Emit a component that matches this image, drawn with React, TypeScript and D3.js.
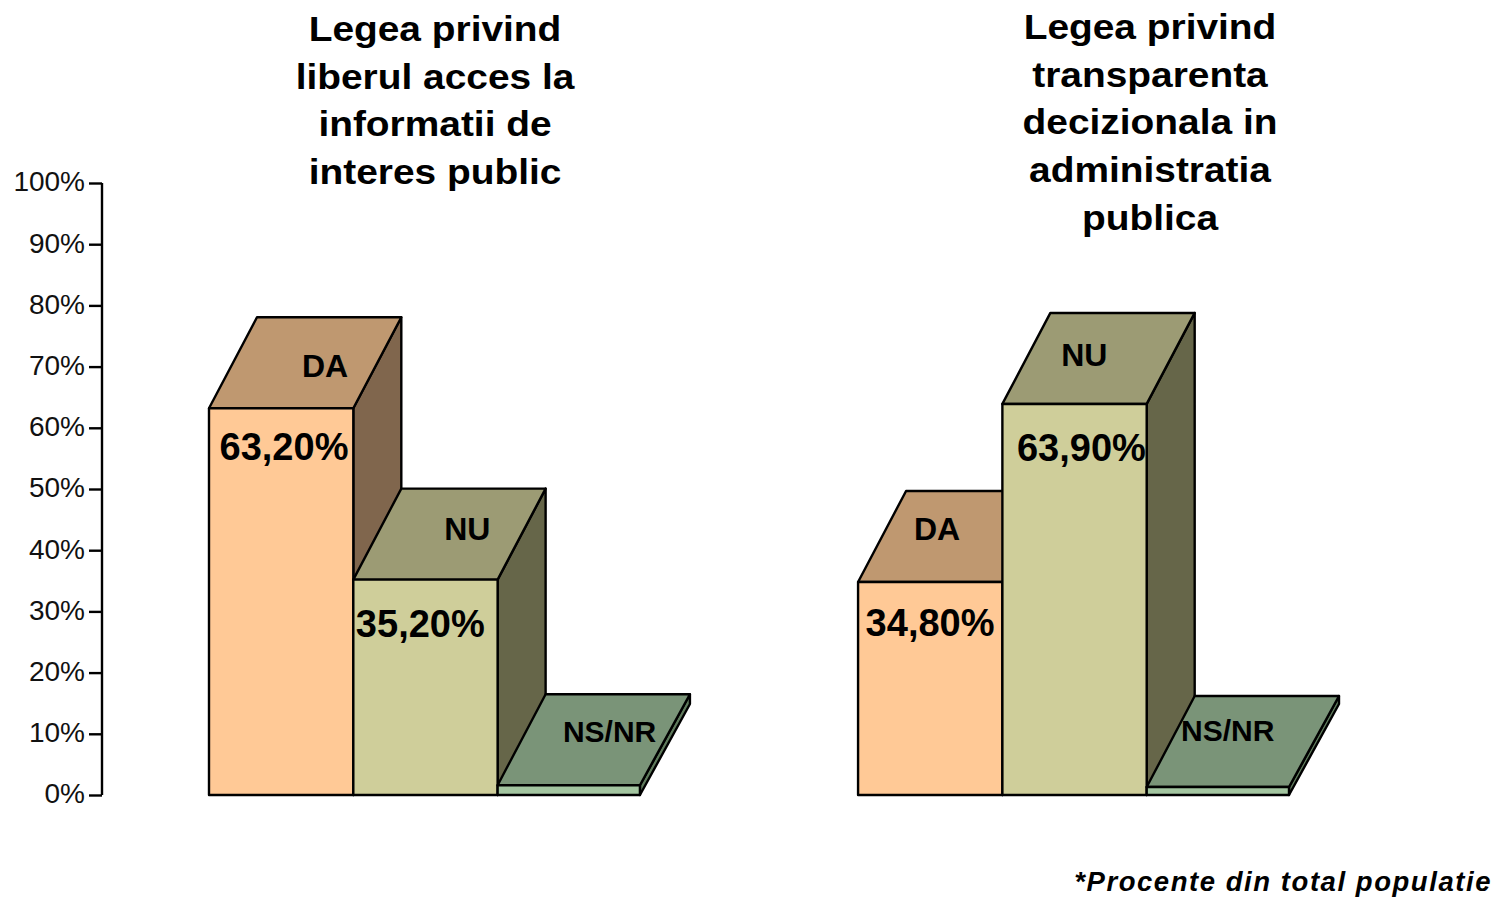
import React, { useEffect, useRef } from 'react';
import * as d3 from 'd3';

// Values
const groups = ['libera', 'transparenta'];
const categories = ['DA', 'NU', 'NS/NR'];
const accesValues = [63.2, 35.2, 1.6];
const transparentaValues = [34.8, 63.9, 1.3];
const percentLabels = [['63,20%', '35,20%', ''], ['34,80%', '63,90%', '']];
const yTicks = [0, 10, 20, 30, 40, 50, 60, 70, 80, 90, 100];
const titles = [
  ['Legea privind', 'liberul acces la', 'informatii de', 'interes public'],
  ['Legea privind', 'transparenta', 'decizionala in', 'administratia', 'publica'],
];
const footnote = '*Procente din total populatie';

// Face colours per category
const frontColors = ['#FFC996', '#CFCE9A', '#A3C5A0'];
const topColors = ['#BF9870', '#9C9B74', '#7A9478'];
const sideColors = ['#80664D', '#666649', '#5F7A5C'];

// Label nudges (offset from the bar's left edge / top edge)
const topLabelDx = [[116, 114, 112], [79, 82, 81]];
const topLabelDy = [[-31, -40, -43], [-42, -38, -46]];
const valueLabelDx = [[75, 67, 0], [72, 79, 0]];
const valueLabelDy = [[52, 57, 0], [54, 57, 0]];
const frontInset = [0, 0, 2];
const titleCenters = [435, 1150];
const titleFirstBaselines = [41, 39];

const App = () => {
  const ref = useRef<SVGSVGElement>(null);

  useEffect(() => {
    const svg = d3.select(ref.current);
    svg.selectAll('*').remove();

    const font = '"Liberation Sans", Arial, sans-serif';
    const depthX = 48;
    const depthY = 91;

    const y = d3.scaleLinear().domain([0, 100]).range([795, 183]);
    const xGroup = d3.scaleBand().domain(groups).range([209, 1291]).paddingInner(0.333);
    const xBar = d3.scaleBand().domain(categories).range([0, xGroup.bandwidth()]);

    // Y axis
    const axis = svg.append('g')
      .attr('transform', 'translate(102,0)')
      .call(d3.axisLeft(y).tickValues(yTicks).tickSize(13).tickPadding(4).tickFormat(d => `${d}%`));
    axis.selectAll('path, line').attr('stroke', '#000').attr('stroke-width', 2.4);
    axis.select('.domain').attr('d', `M0,${y(100)}V${y(0)}`);
    axis.selectAll('text')
      .attr('font-family', font)
      .attr('font-size', 28)
      .attr('dy', '0.28em')
      .attr('fill', '#111');

    const series = [accesValues, transparentaValues];

    groups.forEach((group, g) => {
      const layer = svg.append('g').attr('transform', `translate(${xGroup(group)},0)`);
      const bars = layer.selectAll('g.bar')
        .data(series[g])
        .enter()
        .append('g')
        .attr('class', 'bar');

      const line = d3.line();
      const left = (i: number) => xBar(categories[i]) as number;
      const back = (i: number) => left(i) + xBar.bandwidth();
      const right = (i: number) => back(i) - frontInset[i];

      // side face
      bars.append('path')
        .attr('d', (d, i) => line([
          [right(i), y(d)],
          [back(i) + depthX, y(d) - depthY],
          [back(i) + depthX, y(0) - depthY],
          [right(i), y(0)],
        ]) + 'Z')
        .attr('fill', (_, i) => sideColors[i]);

      // top face
      bars.append('path')
        .attr('d', (d, i) => line([
          [left(i), y(d)],
          [left(i) + depthX, y(d) - depthY],
          [back(i) + depthX, y(d) - depthY],
          [right(i), y(d)],
        ]) + 'Z')
        .attr('fill', (_, i) => topColors[i]);

      // front face
      bars.append('rect')
        .attr('x', (_, i) => left(i))
        .attr('y', d => y(d))
        .attr('width', (_, i) => right(i) - left(i))
        .attr('height', d => y(0) - y(d))
        .attr('fill', (_, i) => frontColors[i]);

      bars.selectAll('path, rect')
        .attr('stroke', '#000')
        .attr('stroke-width', 2.4)
        .attr('stroke-linejoin', 'round');

      // category label on the top face
      bars.append('text')
        .attr('x', (_, i) => left(i) + topLabelDx[g][i])
        .attr('y', (d, i) => y(d) + topLabelDy[g][i])
        .attr('text-anchor', 'middle')
        .attr('font-family', font)
        .attr('font-weight', 'bold')
        .attr('font-size', (_, i) => (i === 2 ? 30 : 32))
        .attr('fill', '#000')
        .text((_, i) => categories[i]);

      // percentage label on the front face
      bars.append('text')
        .attr('x', (_, i) => left(i) + valueLabelDx[g][i])
        .attr('y', (d, i) => y(d) + valueLabelDy[g][i])
        .attr('text-anchor', 'middle')
        .attr('font-family', font)
        .attr('font-weight', 'bold')
        .attr('font-size', 38)
        .attr('fill', '#000')
        .text((_, i) => percentLabels[g][i]);

      // title, the source type is a little wider than Liberation
      svg.append('g')
        .selectAll('text')
        .data(titles[g])
        .enter()
        .append('text')
        .attr('transform', (_, i) =>
          `translate(${titleCenters[g]},${titleFirstBaselines[g] + i * 47.7}) scale(1.08,1)`)
        .attr('text-anchor', 'middle')
        .attr('font-family', font)
        .attr('font-weight', 'bold')
        .attr('font-size', 36)
        .attr('fill', '#000')
        .text(d => d);
    });

    svg.append('text')
      .attr('x', 1492)
      .attr('y', 891)
      .attr('text-anchor', 'end')
      .attr('font-family', font)
      .attr('font-weight', 'bold')
      .attr('font-style', 'italic')
      .attr('font-size', 27.5)
      .attr('letter-spacing', 1.55)
      .attr('fill', '#000')
      .text(footnote);
  }, []);

  return (
    <svg
      ref={ref}
      width={1497}
      height={897}
      style={{ position: 'absolute', left: 0, top: 0, background: '#fff' }}
    />
  );
};

export default App;
